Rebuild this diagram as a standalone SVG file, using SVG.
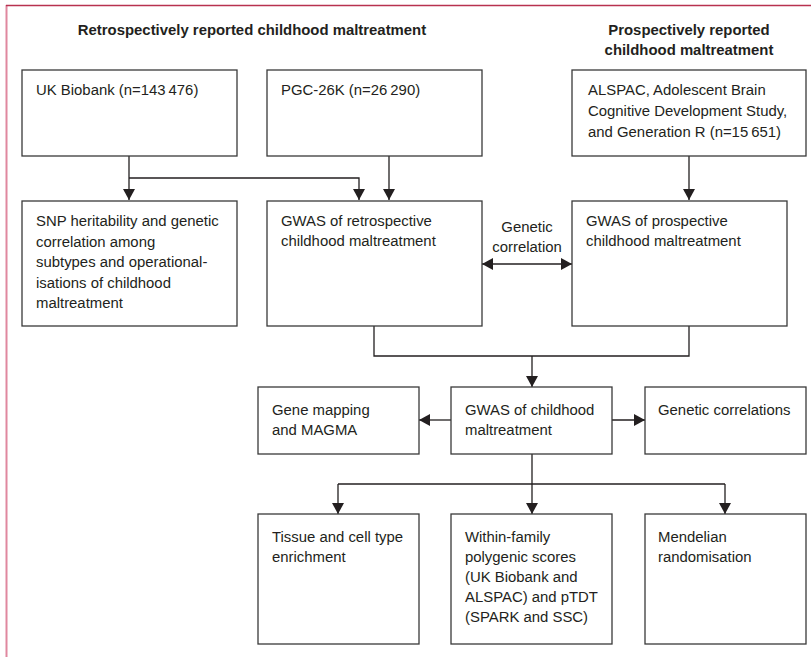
<svg xmlns="http://www.w3.org/2000/svg" width="811" height="657" viewBox="0 0 811 657">
<style>
  .box { fill: #ffffff; stroke: #3a3a3a; stroke-width: 1.3; }
  .t { font-family: "Liberation Sans", Arial, sans-serif; font-size: 14.9px; fill: #231f20; }
  .h { font-family: "Liberation Sans", Arial, sans-serif; font-size: 14.9px; font-weight: bold; fill: #231f20; }
  .c { fill: none; stroke: #231f20; stroke-width: 1.3; }
</style>
<defs>
  <marker id="arr" viewBox="0 0 11 12" refX="11" refY="6" markerWidth="11" markerHeight="12" markerUnits="userSpaceOnUse" orient="auto-start-reverse">
    <path d="M0,0 L11,6 L0,12 z" fill="#231f20"/>
  </marker>
</defs>
<rect x="0" y="0" width="811" height="657" fill="#ffffff"/>
<g id="frame">
  <line x1="6.5" y1="5" x2="6.5" y2="657" stroke="#e0889f" stroke-width="2"/>
  <line x1="6" y1="5.5" x2="811" y2="5.5" stroke="#b8324f" stroke-width="1.5"/>
</g>
<g id="headers">
  <text class="h" x="252" y="35" text-anchor="middle">Retrospectively reported childhood maltreatment</text>
  <text class="h" x="689" y="35" text-anchor="middle">Prospectively reported</text>
  <text class="h" x="689" y="55" text-anchor="middle">childhood maltreatment</text>
</g>
<g id="connectors">
  <path class="c" d="M129,156 V200" marker-end="url(#arr)"/>
  <path class="c" d="M129,178 H359 V200" marker-end="url(#arr)"/>
  <path class="c" d="M389,156 V200" marker-end="url(#arr)"/>
  <path class="c" d="M689,156 V200" marker-end="url(#arr)"/>
  <path class="c" d="M482,264 H572" marker-start="url(#arr)" marker-end="url(#arr)"/>
  <path class="c" d="M374,326 V356 H689 V326"/>
  <path class="c" d="M532,356 V387" marker-end="url(#arr)"/>
  <path class="c" d="M451,420 H419" marker-end="url(#arr)"/>
  <path class="c" d="M612,420 H645" marker-end="url(#arr)"/>
  <path class="c" d="M532,454 V514" marker-end="url(#arr)"/>
  <path class="c" d="M338,484 H725"/>
  <path class="c" d="M338,484 V514" marker-end="url(#arr)"/>
  <path class="c" d="M725,484 V514" marker-end="url(#arr)"/>
  <text class="t" x="527" y="232" text-anchor="middle">Genetic</text>
  <text class="t" x="527" y="252" text-anchor="middle">correlation</text>
</g>
<g id="ukb">
  <rect class="box" x="22" y="70" width="215" height="86"/>
  <text class="t" x="36" y="95">UK Biobank (n=143&#8201;476)</text>
</g>
<g id="pgc">
  <rect class="box" x="267" y="70" width="215" height="86"/>
  <text class="t" x="281" y="95">PGC-26K (n=26&#8201;290)</text>
</g>
<g id="alspac">
  <rect class="box" x="572" y="70" width="234" height="86"/>
  <text class="t" x="588" y="95">ALSPAC, Adolescent Brain</text>
  <text class="t" x="588" y="116">Cognitive Development Study,</text>
  <text class="t" x="588" y="137">and Generation R (n=15&#8201;651)</text>
</g>
<g id="snp">
  <rect class="box" x="22" y="201" width="215" height="125"/>
  <text class="t" x="36" y="226">SNP heritability and genetic</text>
  <text class="t" x="36" y="247">correlation among</text>
  <text class="t" x="36" y="267">subtypes and operational-</text>
  <text class="t" x="36" y="288">isations of childhood</text>
  <text class="t" x="36" y="308">maltreatment</text>
</g>
<g id="gwas-retro">
  <rect class="box" x="267" y="201" width="215" height="125"/>
  <text class="t" x="281" y="226">GWAS of retrospective</text>
  <text class="t" x="281" y="246">childhood maltreatment</text>
</g>
<g id="gwas-prosp">
  <rect class="box" x="572" y="201" width="215" height="125"/>
  <text class="t" x="586" y="226">GWAS of prospective</text>
  <text class="t" x="586" y="246">childhood maltreatment</text>
</g>
<g id="gene-mapping">
  <rect class="box" x="258" y="387" width="161" height="67"/>
  <text class="t" x="272" y="415">Gene mapping</text>
  <text class="t" x="272" y="435">and MAGMA</text>
</g>
<g id="gwas-child">
  <rect class="box" x="451" y="387" width="161" height="67"/>
  <text class="t" x="465" y="415">GWAS of childhood</text>
  <text class="t" x="465" y="435">maltreatment</text>
</g>
<g id="genetic-correlations">
  <rect class="box" x="645" y="387" width="161" height="67"/>
  <text class="t" x="658" y="415">Genetic correlations</text>
</g>
<g id="tissue">
  <rect class="box" x="258" y="514" width="161" height="130"/>
  <text class="t" x="272" y="542">Tissue and cell type</text>
  <text class="t" x="272" y="562">enrichment</text>
</g>
<g id="within-family">
  <rect class="box" x="451" y="514" width="161" height="130"/>
  <text class="t" x="465" y="542">Within-family</text>
  <text class="t" x="465" y="562">polygenic scores</text>
  <text class="t" x="465" y="582">(UK Biobank and</text>
  <text class="t" x="465" y="602">ALSPAC) and pTDT</text>
  <text class="t" x="465" y="622">(SPARK and SSC)</text>
</g>
<g id="mendelian">
  <rect class="box" x="645" y="514" width="161" height="130"/>
  <text class="t" x="658" y="542">Mendelian</text>
  <text class="t" x="658" y="562">randomisation</text>
</g>
</svg>
